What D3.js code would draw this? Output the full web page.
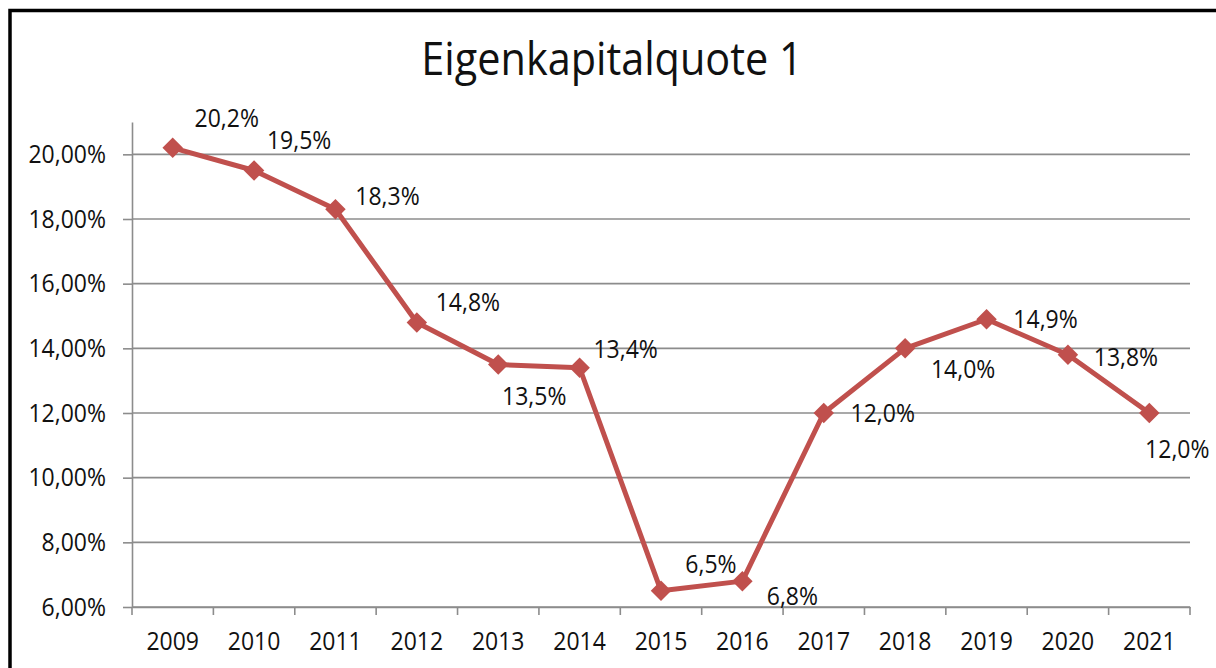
<!DOCTYPE html>
<html>
<head>
<meta charset="utf-8">
<script src="https://cdn.jsdelivr.net/npm/d3@7"></script>
<style>
    body { margin: 0; background: #fff; }
    text { font-family: "Open Sans", "Noto Sans", sans-serif; fill: #111; }
</style>
</head>
<body>
<div id="vis-container"></div>
<script>
// Data
var years = ["2009", "2010", "2011", "2012", "2013", "2014", "2015", "2016", "2017", "2018", "2019", "2020", "2021"];
var quote = [20.2, 19.5, 18.3, 14.8, 13.5, 13.4, 6.5, 6.8, 12.0, 14.0, 14.9, 13.8, 12.0];
var yTicks = [6, 8, 10, 12, 14, 16, 18, 20];
var title = "Eigenkapitalquote 1";

// Where each data label sits relative to its point (layout only)
var labelOffsets = [[54, -30], [45, -31], [52, -13], [51, -20], [36, 31], [46, -19],
    [50, -27], [50, 15], [59, 0], [58, 21], [59, 0], [58, 2], [28, 36]];

var width = 1216;
var height = 668;
var plot = { left: 132, right: 1190, top: 122, bottom: 607 };
var squeeze = 0.92;   // the original font is narrower than Open Sans

var svg = d3.select("#vis-container").append("svg")
    .attr("width", width)
    .attr("height", height);

// Outer frame (only left and top edges fall inside the picture)
svg.append("rect")
    .attr("x", 10).attr("y", 10.5)
    .attr("width", width + 20).attr("height", height + 20)
    .attr("fill", "none")
    .attr("stroke", "#000")
    .attr("stroke-width", 3.5);

svg.append("text")
    .attr("transform", "translate(612,75) scale(0.9,1)")
    .attr("text-anchor", "middle")
    .attr("font-size", 46)
    .text(title);

var x = d3.scaleBand().domain(years).range([plot.left, plot.right]).padding(0);
var y = d3.scaleLinear().domain([6, 21]).range([plot.bottom, plot.top]);

var fmtAxis = function (d) { return d.toFixed(2).replace(".", ",") + "%"; };
var fmtLabel = function (d) { return d.toFixed(1).replace(".", ",") + "%"; };

// Gridlines
svg.append("g").selectAll("line")
    .data(yTicks)
    .join("line")
    .attr("x1", plot.left).attr("x2", plot.right)
    .attr("y1", function (d) { return y(d); })
    .attr("y2", function (d) { return y(d); })
    .attr("stroke", "#8c8c8c")
    .attr("stroke-width", 1.6);

// Y axis
var yAxisG = svg.append("g")
    .attr("transform", "translate(" + plot.left + ",0)")
    .call(d3.axisLeft(y).tickValues(yTicks).tickSize(9).tickSizeOuter(0).tickFormat(fmtAxis));
yAxisG.selectAll("path, line").attr("stroke", "#8c8c8c").attr("stroke-width", 1.6);
yAxisG.selectAll("text")
    .attr("font-size", 25)
    .attr("fill", "#111")
    .attr("x", 0)
    .attr("transform", "translate(-26,0) scale(" + squeeze + ",1)");

// X axis: labels centred in bands, tick marks between categories
var xAxisG = svg.append("g")
    .attr("transform", "translate(0," + plot.bottom + ")")
    .call(d3.axisBottom(x).tickSize(0).tickSizeOuter(0));
xAxisG.select(".domain").attr("stroke", "#8c8c8c").attr("stroke-width", 1.6);
xAxisG.selectAll("text")
    .attr("font-size", 25)
    .attr("fill", "#111")
    .attr("y", 0)
    .attr("dy", 0)
    .attr("transform", "translate(0,43) scale(" + squeeze + ",1)");
xAxisG.selectAll(".boundary")
    .data(years.map(function (d) { return x(d); }).concat([plot.right]))
    .join("line")
    .attr("class", "boundary")
    .attr("x1", function (d) { return d; }).attr("x2", function (d) { return d; })
    .attr("y1", 0).attr("y2", 8)
    .attr("stroke", "#8c8c8c")
    .attr("stroke-width", 1.6);

var cx = function (i) { return x(years[i]) + x.bandwidth() / 2; };

// Line
var line = d3.line()
    .x(function (d, i) { return cx(i); })
    .y(function (d) { return y(d); });

svg.append("path")
    .datum(quote)
    .attr("d", line)
    .attr("fill", "none")
    .attr("stroke", "#c0504d")
    .attr("stroke-width", 5)
    .attr("stroke-linejoin", "round");

// Diamond markers
svg.append("g").selectAll("path")
    .data(quote)
    .join("path")
    .attr("d", d3.symbol(d3.symbolSquare, 210))
    .attr("transform", function (d, i) { return "translate(" + cx(i) + "," + y(d) + ") rotate(45)"; })
    .attr("fill", "#c0504d");

// Data labels
svg.append("g").selectAll("text")
    .data(quote)
    .join("text")
    .attr("transform", function (d, i) {
        return "translate(" + (cx(i) + labelOffsets[i][0]) + "," + (y(d) + labelOffsets[i][1]) + ") scale(" + squeeze + ",1)";
    })
    .attr("text-anchor", "middle")
    .attr("dy", "0.36em")
    .attr("font-size", 25)
    .text(fmtLabel);
</script>
</body>
</html>
